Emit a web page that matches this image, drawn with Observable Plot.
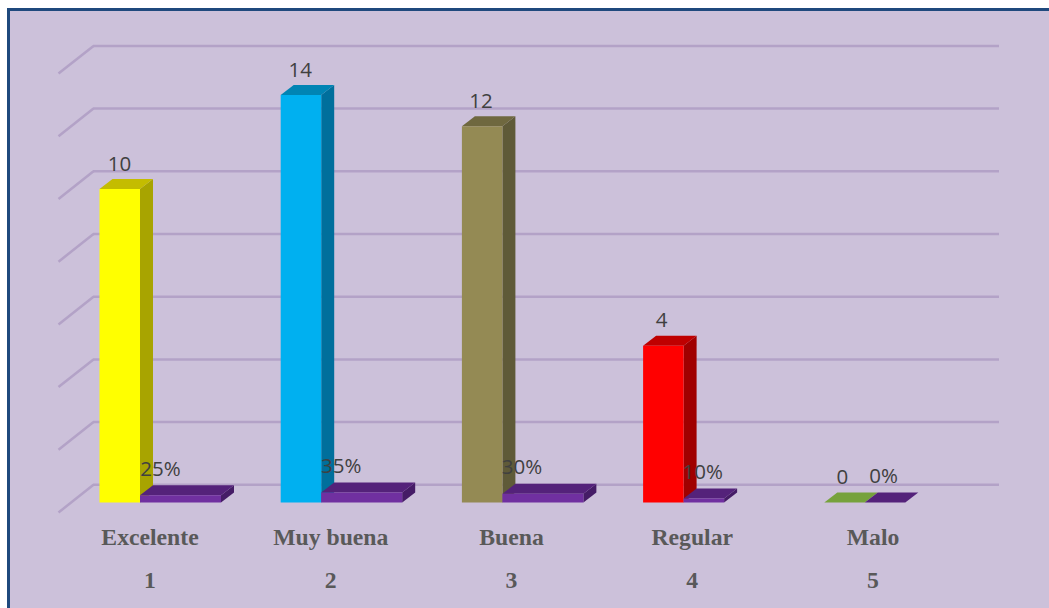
<!DOCTYPE html>
<html><head><meta charset="utf-8">
<script src="https://cdn.jsdelivr.net/npm/d3@7"></script>
<script src="https://cdn.jsdelivr.net/npm/@observablehq/plot@0.6"></script>
<style>
html,body{margin:0;padding:0;background:#fff;overflow:hidden}
#wrap{position:relative;width:1049px;height:608px}
#panel{position:absolute;left:7px;top:8px;width:1050px;height:610px;background:#ccc1da;border:3px solid #1f497d;box-sizing:border-box}
#wrap svg{position:absolute;left:0;top:0;background:transparent}
</style></head><body><div id="wrap"><div id="panel"></div></div>
<script>
const categories = ["Excelente","Muy buena","Buena","Regular","Malo"];
const indices = [1,2,3,4,5];
const countLabels = [10,14,12,4,0];
const countHeights = [10,13,12,5,0];      // bar heights as drawn in the picture
const percentLabels = ["25%","35%","30%","10%","0%"];
const percentHeights = [0.23,0.32,0.28,0.13,0];
const percentWidths = [2,2,2,1,1];        // purple bar width, in bar-widths as drawn
const gridLevels = [0,2,4,6,8,10,12,14];
const frontColors = ["#ffff00","#00b0f0","#948a54","#ff0000","#76a23c"];
const topColors   = ["#c4bc00","#0084b4","#6f683f","#bf0000","#76a23c"];
const sideColors  = ["#a8a400","#006f9c","#5f5a38","#a00000","#76a23c"];
const purple = {front:"#7030a0", top:"#54227a", side:"#451c66"};

const X0 = 149.5, XSTEP = 180.75, Y0 = 502, YSTEP = 31.35;
const ux = p => p / XSTEP, uy = p => p / YSTEP;
const BW = ux(40.5), DX = ux(13), DY = uy(10), LEFT = -ux(50.5);
const drift = d => (d-1) * ux(0.45);

const polys = [];
function box(id, x0, x1, h, c) {
  const add = (name, pts, fill) => pts.forEach(([x,y]) => polys.push({id:id+name, x, y, fill}));
  add("s", [[x1,0],[x1+DX,DY],[x1+DX,h+DY],[x1,h]], c.side);
  add("t", [[x0,h],[x0+DX,h+DY],[x1+DX,h+DY],[x1,h]], c.top);
  if (h > 0) add("f", [[x0,0],[x1,0],[x1,h],[x0,h]], c.front);
}
indices.forEach((d,i) => {
  const x0 = d + drift(d) + LEFT, x1 = x0 + BW;
  box("a"+i, x0, x1, countHeights[i], {front:frontColors[i], top:topColors[i], side:sideColors[i]});
});
indices.forEach((d,i) => {
  const x0 = d + drift(d) + LEFT + BW, x1 = x0 + BW * percentWidths[i];
  box("b"+i, x0, x1, percentHeights[i], purple);
});

const wallL = 1 + (93 - X0)/XSTEP, wallR = 1 + (999 - X0)/XSTEP;
const wallX = ux(35), backUp = uy(17.7), frontDown = uy(10);
const gridColor = "#b3a2c7";

const counts = indices.map((d,i)=>({x:d - 0.169, y:countHeights[i], t:String(countLabels[i])}));
const pcts = indices.map((d,i)=>({x:d + 0.058, y:percentHeights[i], t:percentLabels[i]}));
const cats = indices.map((d,i)=>({x:d, name:categories[i], num:String(d)}));

const plot = Plot.plot({
  width:1049, height:608,
  marginTop:0, marginRight:0, marginBottom:0, marginLeft:0,
  x:{domain:[1,5], range:[X0, X0+4*XSTEP], axis:null},
  y:{domain:[0,14], range:[Y0, Y0-14*YSTEP], axis:null},
  color:{type:"identity"},
  style:{background:"transparent"},
  marks:[
    Plot.ruleY(gridLevels,{y:d=>d+backUp, x1:wallL, x2:wallR, stroke:gridColor, strokeWidth:2.5}),
    Plot.link(gridLevels,{x1:wallL, x2:wallL-wallX, y1:d=>d+backUp, y2:d=>d-frontDown, stroke:gridColor, strokeWidth:2.5}),
    Plot.line(polys,{x:"x", y:"y", z:"id", fill:"fill", stroke:"none"}),
    Plot.text(counts,{x:"x", y:"y", text:"t", dy:-25, fontFamily:"Open Sans", fontSize:20.5, fill:"#404040"}),
    Plot.text(pcts,{x:"x", y:"y", text:"t", dy:-26, fontFamily:"Open Sans", fontSize:20.5, fill:"#404040"}),
    Plot.text(cats,{x:"x", y:0, text:"name", dy:35, fontFamily:"Liberation Serif", fontWeight:"bold", fontSize:23.7, fill:"#595959"}),
    Plot.text(cats,{x:"x", y:0, text:"num", dy:78, fontFamily:"Liberation Serif", fontWeight:"bold", fontSize:23.7, fill:"#595959"})
  ]
});
document.getElementById("wrap").appendChild(plot);
</script></body></html>
